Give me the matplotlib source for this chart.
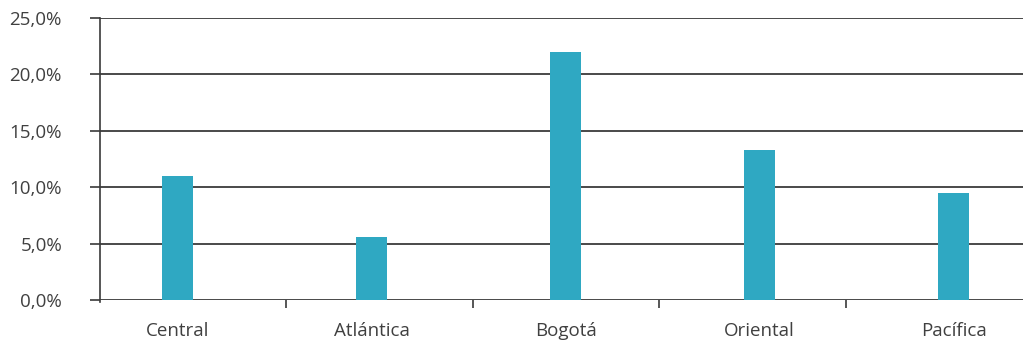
import matplotlib
matplotlib.use('Agg')
import matplotlib.pyplot as plt
from matplotlib.ticker import FuncFormatter, FixedLocator

regiones = ['Central', 'Atlántica', 'Bogotá', 'Oriental', 'Pacífica']
valores = [11.0, 5.6, 22.0, 13.3, 9.5]
y_ticks = [0, 5, 10, 15, 20, 25]

plt.rcParams['font.family'] = ['Open Sans', 'DejaVu Sans']
txt = '#404040'

fig = plt.figure(figsize=(10.23, 3.46), dpi=100)
ax = fig.add_axes([99.5 / 1023, 46 / 346, 1 - 99.5 / 1023, 282 / 346])

x = list(range(len(regiones)))
ax.bar(x, valores, width=0.16, color='#2FA8C2', zorder=3)

ax.set_ylim(0, 25)
ax.set_xlim(-0.402, 4.358)
ax.set_yticks(y_ticks)
ax.yaxis.set_major_formatter(FuncFormatter(lambda v, p: f'{v:.1f}%'.replace('.', ',')))
for yv in y_ticks:
    ax.axhline(yv, color='#3a3a3a', lw=1.3, zorder=2)

ax.set_xticks(x)
ax.set_xticklabels(regiones)
ax.xaxis.set_minor_locator(FixedLocator([0.559 + i * 0.9625 for i in range(4)]))
ax.tick_params(axis='x', which='major', length=0, pad=16, labelsize=13.5, labelcolor=txt)
ax.tick_params(axis='x', which='minor', length=6, width=1.2, color='#3a3a3a')
ax.tick_params(axis='y', length=7, width=1.2, color='#3a3a3a', pad=20, labelsize=13.5, labelcolor=txt)

for s in ['top', 'right', 'bottom']:
    ax.spines[s].set_visible(False)
ax.spines['left'].set_color('#3a3a3a')
ax.spines['left'].set_linewidth(1.2)
ax.spines['left'].set_bounds(-0.15, 25)

fig.savefig('out.png', dpi=100)
